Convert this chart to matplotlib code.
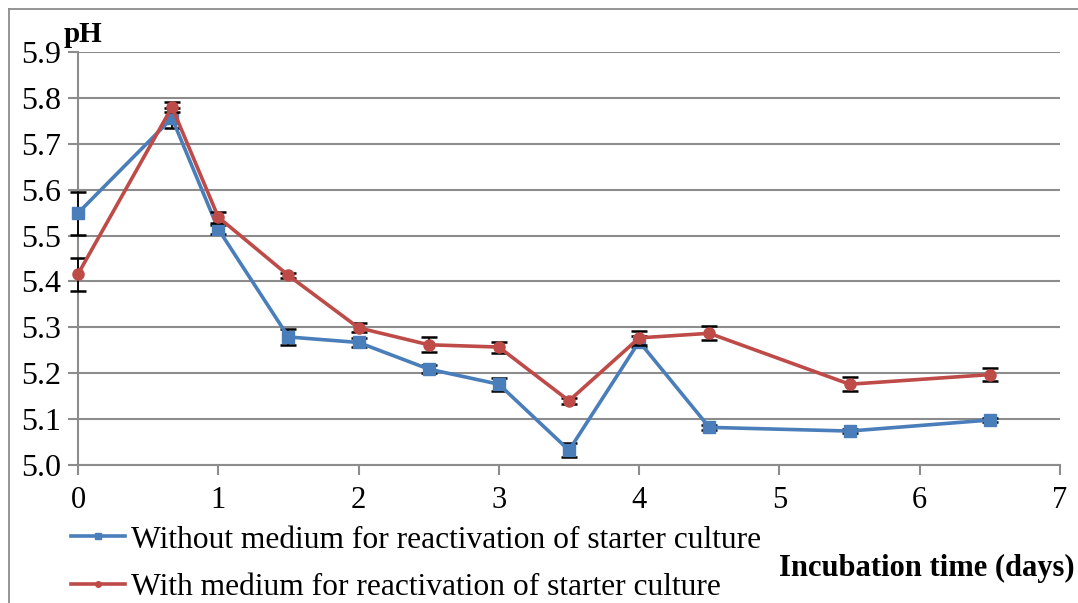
import matplotlib
matplotlib.use("Agg")
import matplotlib.pyplot as plt
from matplotlib.lines import Line2D

days = [0, 0.67, 1, 1.5, 2, 2.5, 3, 3.5, 4, 4.5, 5.5, 6.5]
ph_without = [5.549, 5.756, 5.514, 5.279, 5.267, 5.209, 5.176, 5.032, 5.269, 5.082, 5.074, 5.098]
err_without = [0.047, 0.022, 0.010, 0.018, 0.010, 0.008, 0.014, 0.015, 0.012, 0.005, 0.005, 0.005]
ph_with = [5.416, 5.780, 5.540, 5.413, 5.299, 5.262, 5.257, 5.140, 5.277, 5.287, 5.176, 5.197]
err_with = [0.036, 0.010, 0.012, 0.005, 0.010, 0.016, 0.012, 0.007, 0.016, 0.015, 0.015, 0.015]
x_ticks = [0, 1, 2, 3, 4, 5, 6, 7]
y_ticks = [5.0, 5.1, 5.2, 5.3, 5.4, 5.5, 5.6, 5.7, 5.8, 5.9]
label_without = "Without medium for reactivation of starter culture"
label_with = "With medium for reactivation of starter culture"

blue = "#4A7EBB"
red = "#BE4B48"
grid_c = "#8C8C8C"
serif = "Liberation Serif"

fig = plt.figure(figsize=(10.78, 6.03), dpi=100)
ax = fig.add_axes([78/1078, 1-465/603, (1060-78)/1078, (465-52)/603])

# outer chart frame (left and top edges visible; right/bottom run off the image)
fig.add_artist(Line2D([9/1078, 9/1078], [0, 1-9/603], transform=fig.transFigure,
                      color=grid_c, lw=1.3))
fig.add_artist(Line2D([9/1078, 1], [1-9/603, 1-9/603], transform=fig.transFigure,
                      color=grid_c, lw=1.3))

for ys, es, col, mk, ms, z in [(ph_without, err_without, blue, "s", 9, 3),
                               (ph_with, err_with, red, "o", 8, 4)]:
    cont = ax.errorbar(days, ys, yerr=es, color=col, lw=2.6, marker=mk, ms=ms,
                       mfc=col, mec=col, ecolor="black", elinewidth=1.3, capsize=6,
                       capthick=1.8, zorder=z)
    for art in cont.get_children():
        art.set_clip_on(False)

ax.set_xlim(0, 7)
ax.set_ylim(5.0, 5.9)
ax.set_xticks(x_ticks)
ax.set_yticks(y_ticks)
ax.set_xticklabels([str(t) for t in x_ticks], family=serif, fontsize=22)
ax.set_yticklabels([f"{t:.1f}" for t in y_ticks], family=serif, fontsize=23)
ax.yaxis.grid(True, color=grid_c, lw=1.5)
ax.set_axisbelow(True)
for s in ["top", "right"]:
    ax.spines[s].set_visible(False)
for s in ["left", "bottom"]:
    ax.spines[s].set_color(grid_c)
    ax.spines[s].set_linewidth(1.5)
ax.tick_params(axis="both", direction="out", color=grid_c, width=1.5, length=7, pad=5)
ax.tick_params(axis="x", pad=8)

fig.text(64/1078, 1-35/603, "pH", family=serif, fontweight="bold", fontsize=21,
         va="center", ha="left")
fig.text(1075/1078, 1-568/603, "Incubation time (days)", family=serif,
         fontweight="bold", fontsize=22, va="center", ha="right")

h1 = Line2D([], [], color=blue, lw=2.6, marker="s", ms=5)
h2 = Line2D([], [], color=red, lw=2.6, marker="o", ms=4)
leg = fig.legend([h1, h2], [label_without, label_with], loc="upper left",
                 bbox_to_anchor=(62/1078, 1-516/603), frameon=False,
                 prop={"family": serif, "size": 22.7},
                 handlelength=1.7, handletextpad=0.2, labelspacing=0.58,
                 borderaxespad=0, borderpad=0.3)

fig.savefig("out.png", dpi=100)
